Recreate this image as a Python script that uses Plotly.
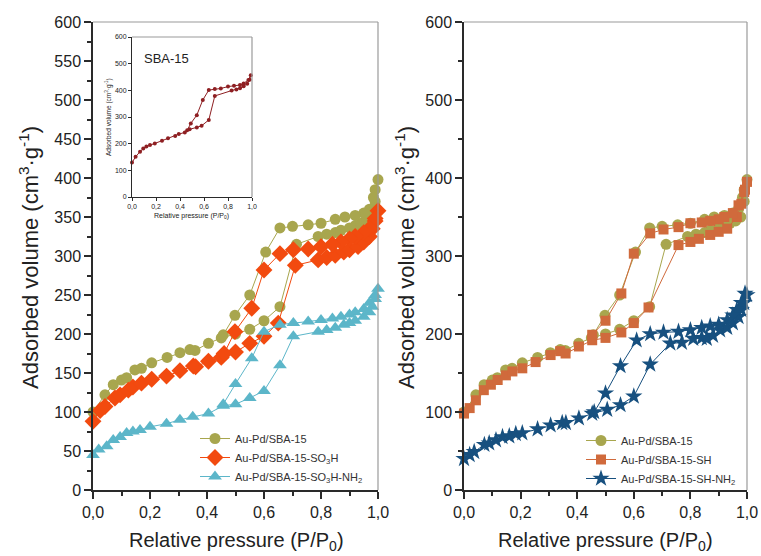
import plotly.graph_objects as go

# ---------------- Inset: parent SBA-15 isotherm ----------------
sba_p = [0.0, 0.03, 0.067, 0.094, 0.12, 0.15, 0.19, 0.25, 0.30, 0.36, 0.39, 0.44,
         0.48, 0.54, 0.58, 0.64, 0.69, 0.83, 0.87, 0.90, 0.93, 0.96, 0.98, 0.99,
         0.97, 0.93, 0.90, 0.85, 0.80, 0.74, 0.69, 0.64, 0.59, 0.54, 0.49, 0.46]
sba_v = [129, 151, 170, 182, 189, 195, 201, 211, 220, 229, 236, 242,
         254, 261, 267, 289, 379, 399, 403, 408, 415, 425, 440, 457,
         439, 426, 420, 417, 414, 407, 405, 401, 364, 307, 276, 250]

# ---------------- Au-Pd/SBA-15 (shown in both panels) ----------------
base_p = [0.0, 0.042, 0.071, 0.10, 0.118, 0.147, 0.17, 0.206, 0.26, 0.305, 0.34, 0.358,
          0.405, 0.45, 0.50, 0.55, 0.60, 0.656, 0.714, 0.79, 0.82, 0.85, 0.87, 0.90,
          0.92, 0.94, 0.96, 0.978, 0.99, 1.0,
          0.99, 0.984, 0.97, 0.95, 0.92, 0.884, 0.85, 0.80, 0.755, 0.70, 0.656,
          0.606, 0.55, 0.498, 0.457]
base_v = [100, 122, 135, 141, 144, 154, 156, 163, 170, 176, 180, 179,
          188, 195, 200, 206, 217, 235, 315, 325, 328, 330, 333, 336,
          339, 342, 345, 350, 370, 398,
          385, 375, 360, 355, 352, 350, 347, 342, 340, 338, 336,
          305, 250, 224, 199]

# ---------------- Au-Pd/SBA-15-SO3H ----------------
so3h_p = [0.0, 0.025, 0.042, 0.077, 0.095, 0.124, 0.14, 0.17, 0.206, 0.258, 0.305, 0.352,
          0.36, 0.405, 0.45, 0.50, 0.55, 0.60, 0.65, 0.71, 0.79, 0.82, 0.85, 0.88,
          0.90, 0.93, 0.95, 0.97, 0.98, 0.99, 1.0,
          0.99, 0.97, 0.95, 0.92, 0.90, 0.87, 0.84, 0.80, 0.755, 0.703, 0.656,
          0.60, 0.557, 0.498, 0.46]
so3h_v = [88, 102, 107, 118, 122, 128, 132, 137, 142, 146, 153, 159,
          158, 165, 170, 177, 188, 197, 214, 288, 295, 298, 301, 305,
          308, 312, 318, 325, 335, 345, 358,
          348, 335, 330, 325, 322, 318, 315, 312, 309, 308, 303,
          282, 233, 203, 175]

# ---------------- Au-Pd/SBA-15-SO3H-NH2 ----------------
so3hn_p = [0.0, 0.02, 0.048, 0.071, 0.095, 0.118, 0.14, 0.165, 0.20, 0.258, 0.305, 0.35,
           0.405, 0.457, 0.50, 0.55, 0.60, 0.656, 0.703, 0.79, 0.82, 0.85, 0.88, 0.90,
           0.92, 0.95, 0.97, 0.98, 0.99, 1.0,
           0.99, 0.97, 0.95, 0.92, 0.90, 0.87, 0.84, 0.80, 0.755, 0.703, 0.656,
           0.60, 0.557, 0.50, 0.457]
so3hn_v = [45, 52, 56, 64, 68, 73, 75, 77, 81, 85, 90, 94,
           98, 108, 110, 118, 127, 160, 197, 203, 205, 208, 212, 214,
           217, 222, 228, 235, 245, 258,
           250, 240, 232, 228, 225, 222, 220, 218, 216, 214, 212,
           203, 169, 136, 110]

# ---------------- Au-Pd/SBA-15-SH ----------------
sh_p = [0.0, 0.02, 0.042, 0.07, 0.095, 0.119, 0.148, 0.171, 0.206, 0.253, 0.306, 0.34,
        0.359, 0.406, 0.453, 0.50, 0.556, 0.60, 0.652, 0.758, 0.80, 0.83, 0.87, 0.90,
        0.93, 0.964, 0.98, 0.993, 1.0,
        0.99, 0.97, 0.95, 0.92, 0.90, 0.87, 0.84, 0.80, 0.758, 0.705, 0.658,
        0.60, 0.556, 0.50, 0.453]
sh_v = [98, 105, 115, 128, 135, 141, 147, 152, 156, 164, 173, 178,
        175, 184, 192, 195, 202, 214, 234, 314, 318, 322, 327, 331,
        335, 350, 367, 385, 395,
        382, 365, 355, 350, 347, 345, 343, 342, 337, 334, 329,
        303, 252, 217, 199]

# ---------------- Au-Pd/SBA-15-SH-NH2 ----------------
shn_p = [0.0, 0.02, 0.036, 0.072, 0.089, 0.113, 0.136, 0.16, 0.183, 0.206, 0.26, 0.306,
         0.347, 0.36, 0.406, 0.453, 0.506, 0.553, 0.60, 0.658, 0.729, 0.77, 0.81, 0.84,
         0.858, 0.88, 0.905, 0.93, 0.95, 0.97, 0.98, 0.99, 1.0,
         0.993, 0.98, 0.964, 0.95, 0.93, 0.90, 0.87, 0.84, 0.80, 0.758, 0.705, 0.658,
         0.61, 0.553, 0.50, 0.46]
shn_v = [40, 45, 49, 58, 60, 64, 68, 69, 72, 73, 78, 83,
         86, 86, 92, 98, 103, 109, 120, 161, 188, 189, 194, 195,
         194, 198, 205, 208, 214, 222, 231, 240, 250,
         252, 240, 231, 224, 218, 212, 210, 208, 205, 203, 202, 200,
         192, 159, 124, 100]

x_ticks = [0.0, 0.2, 0.4, 0.6, 0.8, 1.0]

C_OLIVE = "#A8A64E"
C_SO3H = "#F24A0F"
C_SO3HN = "#5CB6C9"
C_SH = "#D06A3C"
C_SHN = "#17507F"
C_SBA = "#8E1F22"
AX = "#2a2a2a"
FONT = "Liberation Sans, Arial, sans-serif"

fig = go.Figure()


def add_series(p, v, name, color, symbol, size, xa, ya, legend, showlegend=True):
    fig.add_trace(go.Scatter(
        x=p, y=v, name=name, mode="lines+markers",
        line=dict(color=color, width=1),
        marker=dict(color=color, symbol=symbol, size=size, line=dict(width=0)),
        xaxis=xa, yaxis=ya, legend=legend, showlegend=showlegend,
        cliponaxis=False,
    ))


add_series(base_p, base_v, "Au-Pd/SBA-15", C_OLIVE, "circle", 11, "x", "y", "legend")
add_series(so3h_p, so3h_v, "Au-Pd/SBA-15-SO<sub>3</sub>H", C_SO3H, "diamond", 13, "x", "y", "legend")
add_series(so3hn_p, so3hn_v, "Au-Pd/SBA-15-SO<sub>3</sub>H-NH<sub>2</sub>", C_SO3HN,
           "triangle-up", 12, "x", "y", "legend")

add_series(base_p, base_v, "Au-Pd/SBA-15", C_OLIVE, "circle", 11, "x2", "y2", "legend2")
add_series(sh_p, sh_v, "Au-Pd/SBA-15-SH", C_SH, "square", 10, "x2", "y2", "legend2")
add_series(shn_p, shn_v, "Au-Pd/SBA-15-SH-NH<sub>2</sub>", C_SHN, "star", 13, "x2", "y2", "legend2")

fig.add_trace(go.Scatter(
    x=sba_p, y=sba_v, mode="lines+markers", name="SBA-15",
    line=dict(color=C_SBA, width=1), marker=dict(color=C_SBA, size=4),
    xaxis="x3", yaxis="y3", showlegend=False, cliponaxis=False,
))


def xaxis(domain, anchor, size=16, ticklen=7, minorlen=4, width=1.5):
    return dict(
        domain=domain, anchor=anchor, range=[0, 1], automargin=False,
        tickvals=x_ticks, tickformat=".1f",
        ticks="outside", ticklen=ticklen, tickwidth=width, tickcolor=AX,
        minor=dict(dtick=0.1, ticks="outside", ticklen=minorlen, tickwidth=width, tickcolor=AX),
        showline=True, linecolor=AX, linewidth=width,
        showgrid=False, zeroline=False,
        tickfont=dict(size=size, color="#222", family=FONT),
    )


def yaxis(domain, anchor, dtick, minor, size=16, ticklen=7, minorlen=4, width=1.5):
    return dict(
        domain=domain, anchor=anchor, range=[0, 600], dtick=dtick, tick0=0, automargin=False,
        ticks="outside", ticklen=ticklen, tickwidth=width, tickcolor=AX,
        minor=dict(dtick=minor, ticks="outside", ticklen=minorlen, tickwidth=width, tickcolor=AX),
        showline=True, linecolor=AX, linewidth=width,
        showgrid=False, zeroline=False,
        tickfont=dict(size=size, color="#222", family=FONT),
    )


W, H = 761, 556
L_X = [93 / W, 378 / W]
R_X = [464 / W, 747 / W]
MAIN_Y = [1 - 490 / H, 1 - 22 / H]
IN_X = [132 / W, 252 / W]
IN_Y = [1 - 197 / H, 1 - 37 / H]

inset_x = xaxis(IN_X, "y3", size=7, ticklen=3, minorlen=2, width=1)
inset_y = yaxis(IN_Y, "x3", 100, 50, size=7, ticklen=3, minorlen=2, width=1)
inset_x["minor"] = dict(ticks="")
inset_y["minor"] = dict(ticks="")

fig.update_layout(
    template="none",
    width=W, height=H, margin=dict(l=0, r=0, t=0, b=0, autoexpand=False),
    paper_bgcolor="white", plot_bgcolor="white",
    separators=", ",
    font=dict(family=FONT, color="#222"),
    xaxis=xaxis(L_X, "y"),
    yaxis=yaxis(MAIN_Y, "x", 50, 25),
    xaxis2=xaxis(R_X, "y2"),
    yaxis2=yaxis(MAIN_Y, "x2", 100, 50),
    xaxis3=inset_x,
    yaxis3=inset_y,
    legend=dict(x=195 / W, y=1 - 424 / H, xanchor="left", yanchor="top",
                bgcolor="rgba(0,0,0,0)", font=dict(size=11, color="#333", family=FONT),
                tracegroupgap=0, itemwidth=30, borderwidth=0),
    legend2=dict(x=581 / W, y=1 - 426 / H, xanchor="left", yanchor="top",
                 bgcolor="rgba(0,0,0,0)", font=dict(size=11, color="#333", family=FONT),
                 tracegroupgap=0, itemwidth=30, borderwidth=0),
)

# light top/right frame lines
for xr, yr in [("x domain", "y domain"), ("x2 domain", "y2 domain"), ("x3 domain", "y3 domain")]:
    fig.add_shape(type="line", xref=xr, yref=yr, x0=0, x1=1, y0=1, y1=1,
                  line=dict(color="#9a9a9a", width=1.2))
    fig.add_shape(type="line", xref=xr, yref=yr, x0=1, x1=1, y0=0, y1=1,
                  line=dict(color="#9a9a9a", width=1.2))

ytitle = "Adsorbed volume (cm<sup>3</sup>·g<sup>-1</sup>)"
xtitle = "Relative pressure (P/P<sub>0</sub>)"
annots = [
    dict(x=29 / W, y=1 - 258 / H, text=ytitle, textangle=-90, size=22),
    dict(x=405 / W, y=1 - 258 / H, text=ytitle, textangle=-90, size=22),
    dict(x=236 / W, y=1 - 541 / H, text=xtitle, size=20),
    dict(x=605 / W, y=1 - 541 / H, text=xtitle, size=20),
    dict(x=108 / W, y=1 - 117 / H, text=ytitle, textangle=-90, size=6.5),
    dict(x=192 / W, y=1 - 216 / H, text=xtitle, size=7),
    dict(x=142 / W, y=1 - 58 / H, text="SBA-15", size=13, xanchor="left"),
]
for a in annots:
    fig.add_annotation(
        xref="paper", yref="paper", showarrow=False,
        x=a["x"], y=a["y"], text=a["text"], textangle=a.get("textangle", 0),
        xanchor=a.get("xanchor", "center"), yanchor="middle",
        font=dict(size=a["size"], color="#222", family=FONT),
    )

fig.write_html("out.html")
